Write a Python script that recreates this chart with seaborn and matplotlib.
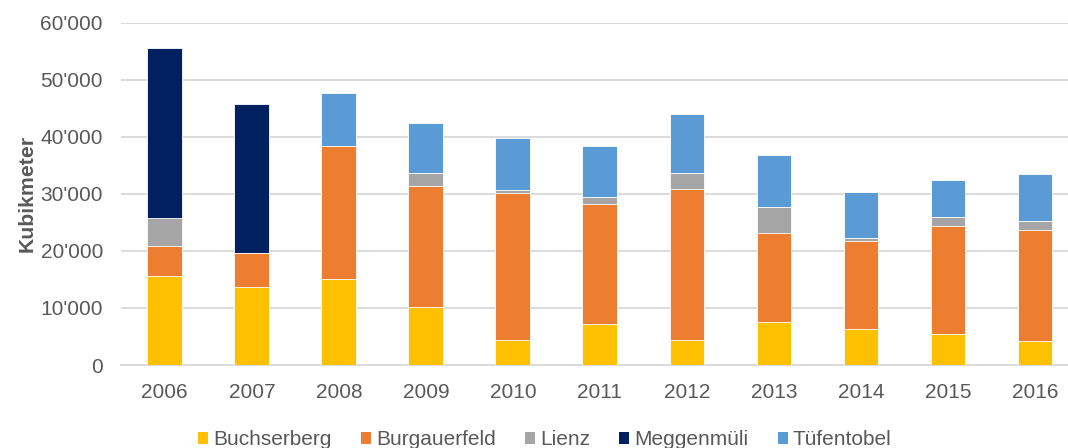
import matplotlib
matplotlib.use("Agg")
import matplotlib.pyplot as plt
from matplotlib.patches import Patch
from matplotlib.ticker import FuncFormatter
import seaborn as sns
import pandas as pd
import numpy as np

years = ["2006", "2007", "2008", "2009", "2010", "2011", "2012", "2013", "2014", "2015", "2016"]
buchserberg = [15600, 13700, 15100, 10100, 4300, 7200, 4300, 7600, 6300, 5400, 4200]
burgauerfeld = [5300, 5900, 23200, 21300, 25900, 21100, 26500, 15500, 15500, 18900, 19400]
lienz = [4900, 0, 0, 2200, 400, 1100, 2800, 4600, 400, 1600, 1600]
meggenmueli = [29800, 26100, 0, 0, 0, 0, 0, 0, 0, 0, 0]
tuefentobel = [0, 0, 9300, 8900, 9200, 8900, 10400, 9100, 8100, 6600, 8300]

series_names = ["Buchserberg", "Burgauerfeld", "Lienz", "Meggenmüli", "Tüfentobel"]
series_vals = [buchserberg, burgauerfeld, lienz, meggenmueli, tuefentobel]
colors = ["#FFC000", "#ED7D31", "#A5A5A5", "#002060", "#5B9BD5"]

sns.set_theme(style="white")
plt.rcParams["font.family"] = ["Liberation Sans", "DejaVu Sans"]
text_color = "#595959"
fs = 15

df = pd.DataFrame({"Jahr": years})
for n, v in zip(series_names, series_vals):
    df[n] = v
cum = df[series_names].cumsum(axis=1)

fig = plt.figure(figsize=(10.68, 4.48), dpi=100)
ax = fig.add_axes([121.3 / 1068, 83 / 448, (1068 - 121.3) / 1068, (365 - 22.7) / 448])

for i in range(len(series_names) - 1, -1, -1):
    name = series_names[i]
    sns.barplot(x=df["Jahr"], y=cum[name], color=colors[i], width=0.4,
                saturation=1, edgecolor="#FFFFFF", linewidth=0.6, ax=ax, zorder=3)

ax.set_ylim(0, 60000)
ax.set_xlim(-0.5, 10 + (1068 - 1035) / 87)
ax.set_yticks(np.arange(0, 60001, 10000))
ax.yaxis.set_major_formatter(FuncFormatter(lambda v, p: "0" if v == 0 else f"{int(v):,}".replace(",", "'")))
ax.grid(axis="y", color="#D9D9D9", linewidth=1.3, zorder=0)
ax.set_axisbelow(True)
for s in ["top", "right", "left"]:
    ax.spines[s].set_visible(False)
ax.spines["bottom"].set_color("#D9D9D9")
ax.spines["bottom"].set_linewidth(1.3)
ax.tick_params(axis="both", length=0, labelsize=fs, colors=text_color)
ax.tick_params(axis="x", pad=13.2)
ax.tick_params(axis="y", pad=13.2)
ax.set_xlabel("")
ax.set_ylabel("Kubikmeter", fontsize=15.3, fontweight="bold", color=text_color)
ax.yaxis.set_label_coords(-0.0896, 0.5)

handles = [Patch(facecolor=c, edgecolor="none", label=n) for n, c in zip(series_names, colors)]
fig.legend(handles=handles, loc="center", bbox_to_anchor=(0.510, 0.018), ncol=5, frameon=False,
           fontsize=fs, handlelength=0.48, handleheight=0.48, handletextpad=0.25,
           columnspacing=1.4, labelcolor=text_color, borderpad=0, borderaxespad=0)

fig.savefig("out.png", dpi=100)
